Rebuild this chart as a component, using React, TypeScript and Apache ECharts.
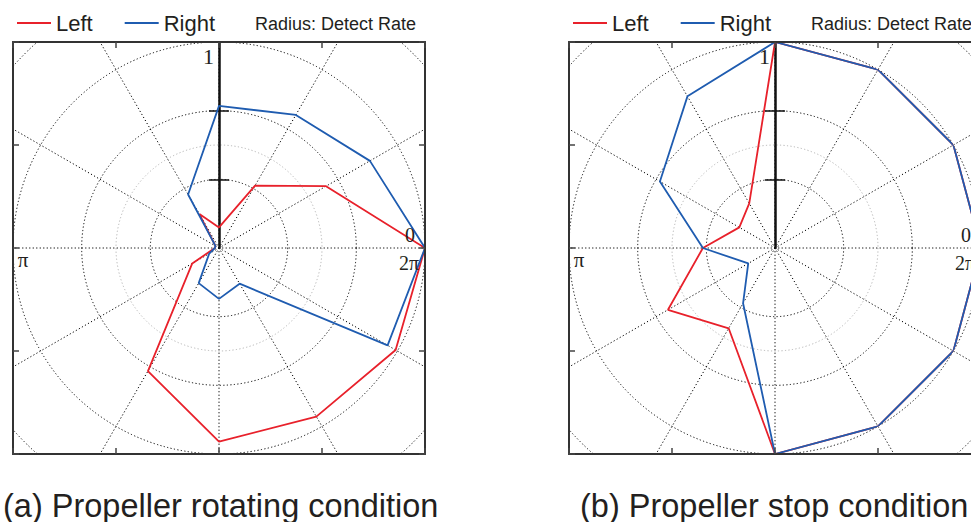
import React, { useEffect, useRef } from 'react';
import * as echarts from 'echarts';

// ---- data ----
const angles = [0, 30, 60, 90, 120, 150, 180, 210, 240, 270, 300, 330, 360];
const rotatingLeft = [1.0, 0.6, 0.35, 0.1, 0.19, 0.02, 0.02, 0.15, 0.69, 0.94, 0.945, 0.99, 1.0];
const rotatingRight = [1.0, 0.846, 0.746, 0.69, 0.3, 0.02, 0.02, 0.055, 0.197, 0.247, 0.2, 0.945, 1.0];
const stopLeft = [1.0, 1.0, 1.0, 1.0, 0.25, 0.2, 0.35, 0.6, 0.45, 1.0, 1.0, 1.0, 1.0];
const stopRight = [1.0, 1.0, 1.0, 1.0, 0.85, 0.645, 0.35, 0.15, 0.31, 1.0, 1.0, 1.0, 1.0];
const seriesNames = ['Left', 'Right'];
const captions = ['(a) Propeller rotating condition', '(b) Propeller stop condition'];
const radiusNote = 'Radius: Detect Rate';
const radiusTicks = [1 / 3, 2 / 3];
const radiusTopLabel = '1';
const angleLabels = ['0', '2π', 'π'];

// ---- layout / style ----
const W = 971;
const H = 522;
const R = 206;
const BOX = 412;
const BOX_TOP = 42;
const BOX_LEFTS = [13, 569];
const CY = BOX_TOP + BOX / 2;
const RED = '#e8212b';
const BLUE = '#1f5cb0';
const INK = '#231f20';
const DOT = [1.2, 2.3];
const GRID_COLOR = '#000000';

function buildOption() {
  const polar: any[] = [];
  const angleAxis: any[] = [];
  const radiusAxis: any[] = [];
  const grid: any[] = [];
  const xAxis: any[] = [];
  const yAxis: any[] = [];
  const series: any[] = [];
  const legend: any[] = [];
  const graphic: any[] = [];
  const plots = [
    [rotatingLeft, rotatingRight],
    [stopLeft, stopRight],
  ];
  const hidden = {
    axisLine: { show: false },
    axisTick: { show: false },
    axisLabel: { show: false },
    splitLine: { show: false },
  };
  const tickStyle = { color: '#111', width: 1.5 };

  plots.forEach((vals, p) => {
    const boxLeft = BOX_LEFTS[p];
    const cx = boxLeft + BOX / 2;
    const base = p * 5;
    const center = [cx, CY];

    polar.push(
      { center, radius: R },                 // data
      { center, radius: R * Math.SQRT2 },    // extended grid (clipped by masks)
      { center, radius: R * 0.5 },           // light ring at 0.5
      { center, radius: R },                 // vertical axis (upper half) + ticks on one side
      { center: [cx, CY - R], radius: R }    // same axis seen from the top: ticks on the other side
    );

    angleAxis.push(
      { polarIndex: base, type: 'value', min: 0, max: 360, startAngle: 0, clockwise: false, show: false },
      {
        polarIndex: base + 1, type: 'value', min: 0, max: 360, interval: 30, startAngle: 0, clockwise: false,
        ...hidden,
        splitLine: { show: true, lineStyle: { color: GRID_COLOR, width: 1, type: DOT } },
        z: 1,
      },
      { polarIndex: base + 2, type: 'value', min: 0, max: 360, startAngle: 0, show: false },
      { polarIndex: base + 3, type: 'value', min: 0, max: 360, startAngle: 90, show: false },
      { polarIndex: base + 4, type: 'value', min: 0, max: 360, startAngle: 270, show: false }
    );

    radiusAxis.push(
      { polarIndex: base, type: 'value', min: 0, max: 1, show: false },
      {
        polarIndex: base + 1, type: 'value', min: 0, max: Math.SQRT2, interval: 1 / 3,
        ...hidden,
        splitLine: { show: true, lineStyle: { color: GRID_COLOR, width: 1, type: DOT } },
        z: 1,
      },
      {
        polarIndex: base + 2, type: 'value', min: 0, max: 1, interval: 1,
        ...hidden,
        splitLine: { show: true, lineStyle: { color: '#b4b4b4', width: 1, type: DOT } },
        z: 0,
      },
      {
        polarIndex: base + 3, type: 'value', min: 0, max: 1,
        ...hidden,
        axisLine: { show: true, lineStyle: { color: '#111', width: 2.5 } },
        axisTick: { show: true, customValues: radiusTicks, length: 10, lineStyle: tickStyle },
        z: 5,
      },
      {
        polarIndex: base + 4, type: 'value', min: 0, max: 1, inverse: true,
        ...hidden,
        axisTick: { show: true, customValues: radiusTicks, length: 10, lineStyle: tickStyle },
        z: 5,
      }
    );

    grid.push({ left: boxLeft, top: BOX_TOP, width: BOX, height: BOX, show: false, containLabel: false, outerBoundsMode: 'none' });
    const frameAxis = (pos: string) => ({
      gridIndex: p,
      type: 'value',
      position: pos,
      min: -1,
      max: 1,
      interval: 0.5,
      axisLine: { show: true, onZero: false, lineStyle: { color: '#333', width: 2 } },
      axisTick: { show: true, inside: true, length: 6, lineStyle: { color: '#444', width: 1.5 } },
      axisLabel: { show: false },
      splitLine: { show: false },
      z: 60,
    });
    xAxis.push(frameAxis('bottom'), frameAxis('top'));
    yAxis.push(frameAxis('left'), frameAxis('right'));

    const colors = [RED, BLUE];
    seriesNames.forEach((name, k) => {
      series.push({
        name,
        type: 'line',
        coordinateSystem: 'polar',
        polarIndex: base,
        data: angles.map((a, i) => [vals[k][i], a]),
        symbol: 'none',
        color: colors[k],
        lineStyle: { color: colors[k], width: 1.8 },
        itemStyle: { color: colors[k] },
        z: 10 + k,
        silent: true,
      });
    });

    legend.push({
      data: seriesNames,
      left: boxLeft + 4,
      top: 12,
      padding: 0,
      orient: 'horizontal',
      itemWidth: 34,
      itemHeight: 2,
      itemGap: 32,
      icon: 'rect',
      selectedMode: false,
      itemStyle: { borderWidth: 0 },
      textStyle: { fontSize: 22, fontFamily: 'Liberation Sans', color: INK, lineHeight: 22 },
      z: 100,
    });

    const txt = (text: string, x: number, y: number, size: number, family: string, align: string, lineHeight?: number) => ({
      type: 'text',
      x,
      y,
      z: 100,
      style: { text, fontSize: size, fontFamily: family, fill: INK, align, verticalAlign: 'middle', lineHeight: lineHeight ?? size },
    });

    graphic.push(
      txt(radiusNote, boxLeft + 242, 24, 18, 'Liberation Sans', 'left'),
      txt(radiusTopLabel, cx - 5, CY - 192, 22, 'Liberation Serif', 'right'),
      txt(angleLabels[0], cx + 191, CY - 13, 20, 'Liberation Serif', 'center'),
      txt(angleLabels[1], cx + 190, CY + 15, 20, 'Liberation Serif', 'center'),
      txt(angleLabels[2], cx - 196, CY + 12, 21, 'Liberation Serif', 'center'),
      txt(captions[p], p === 0 ? 3 : 580, 506, 32.5, 'Liberation Sans', 'left', 30)
    );
  });

  // white masks outside the two square frames (clip the extended polar grids)
  const mask = (x: number, y: number, w: number, h: number) => ({
    type: 'rect',
    z: 50,
    silent: true,
    shape: { x, y, width: w, height: h },
    style: { fill: '#ffffff' },
  });
  const rightOfLeftBox = BOX_LEFTS[0] + BOX + 1;
  graphic.push(
    mask(0, 0, W, BOX_TOP - 1),
    mask(0, BOX_TOP + BOX + 1, W, H - (BOX_TOP + BOX + 1)),
    mask(0, 0, BOX_LEFTS[0] - 1, H),
    mask(rightOfLeftBox, 0, BOX_LEFTS[1] - 1 - rightOfLeftBox, H)
  );

  return {
    animation: false,
    backgroundColor: '#ffffff',
    polar,
    angleAxis,
    radiusAxis,
    grid,
    xAxis,
    yAxis,
    legend,
    series,
    graphic: { elements: graphic },
  };
}

export default function App() {
  const ref = useRef<HTMLDivElement>(null);
  useEffect(() => {
    if (!ref.current) return;
    const chart = echarts.init(ref.current, undefined, { renderer: 'svg' });
    chart.setOption(buildOption() as any);
    return () => chart.dispose();
  }, []);
  return (
    <div
      ref={ref}
      style={{ position: 'absolute', left: 0, top: 0, width: W, height: H, background: '#fff' }}
    />
  );
}
